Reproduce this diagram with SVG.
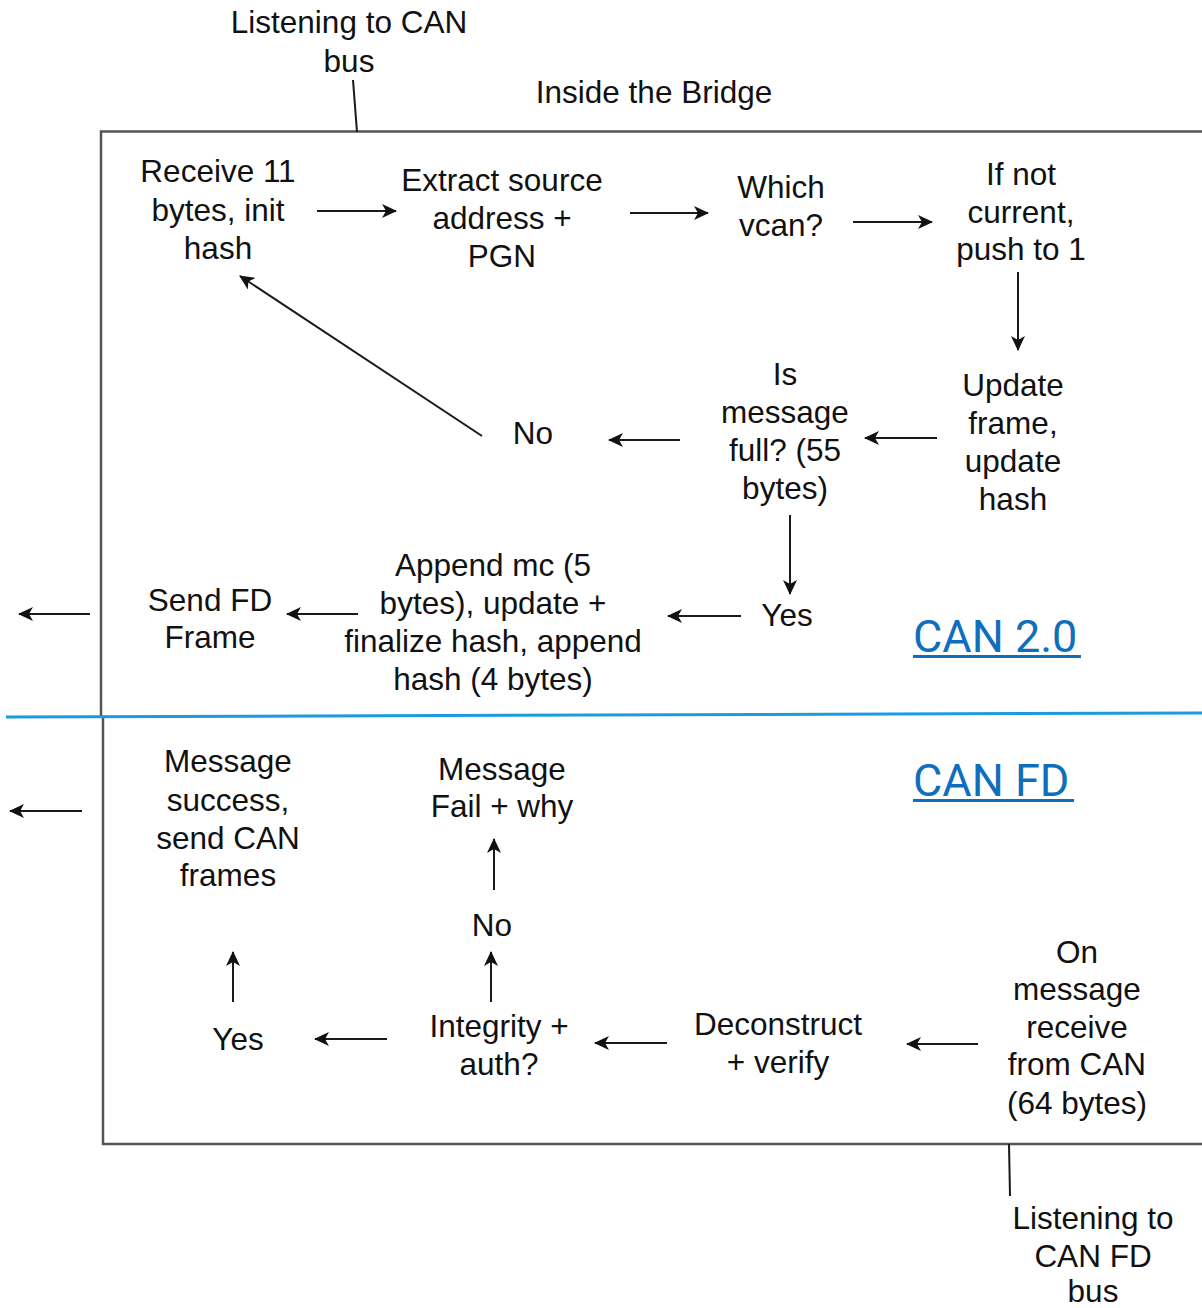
<svg xmlns="http://www.w3.org/2000/svg" width="1202" height="1308" viewBox="0 0 1202 1308">
  <style>
    text { font-family: "Liberation Sans", Arial, sans-serif; font-size: 31.5px; fill: #111; text-anchor: middle; }
    .lbl { font-family: Roboto, "Liberation Sans", sans-serif; font-size: 45px; fill: #0f6fbd; text-anchor: start; }
    .edge { stroke: #1a1a1a; stroke-width: 2; fill: none; }
    .arrow { marker-end: url(#head); }
    .frame { stroke: #555; stroke-width: 2.5; fill: none; }
    .lane { stroke: #1b9ae0; stroke-width: 3; fill: none; }
    .ul { fill: #0f6fbd; }
  </style>
  <defs>
    <marker id="head" viewBox="0 0 15 14" refX="14" refY="7" markerWidth="15" markerHeight="14" markerUnits="userSpaceOnUse" orient="auto">
      <path d="M0,0 L15,7 L0,14 L4,7 z" fill="#111"/>
    </marker>
  </defs>

  <rect width="1202" height="1308" fill="#fff"/>

  <!-- bridge boundary -->
  <g id="bridge">
    <path class="frame" d="M1202,131.5 H101 V717"/>
    <path class="frame" d="M103,717 V1144 H1202"/>
    <path class="lane" d="M6,717 L1202,713"/>
  </g>

  <!-- section titles -->
  <g id="title-bridge"><text x="654" y="103">Inside the Bridge</text></g>
  <g id="lane-can20">
    <text class="lbl" x="913" y="652">CAN 2.0</text>
    <rect class="ul" x="913" y="655" width="168" height="3"/>
  </g>
  <g id="lane-canfd">
    <text class="lbl" x="913" y="796">CAN FD</text>
    <rect class="ul" x="913" y="799" width="161" height="3"/>
  </g>

  <!-- CAN 2.0 flow -->
  <g id="listen-can">
    <text x="349" y="33">Listening to CAN</text>
    <text x="349" y="72">bus</text>
  </g>
  <g id="receive">
    <text x="218" y="182">Receive 11</text>
    <text x="218" y="221">bytes, init</text>
    <text x="218" y="259">hash</text>
  </g>
  <g id="extract">
    <text x="502" y="191">Extract source</text>
    <text x="502" y="229">address +</text>
    <text x="502" y="267">PGN</text>
  </g>
  <g id="which-vcan">
    <text x="781" y="198">Which</text>
    <text x="781" y="236">vcan?</text>
  </g>
  <g id="push">
    <text x="1021" y="185">If not</text>
    <text x="1021" y="223">current,</text>
    <text x="1021" y="260">push to 1</text>
  </g>
  <g id="update">
    <text x="1013" y="396">Update</text>
    <text x="1013" y="434">frame,</text>
    <text x="1013" y="472">update</text>
    <text x="1013" y="510">hash</text>
  </g>
  <g id="is-full">
    <text x="785" y="385">Is</text>
    <text x="785" y="423">message</text>
    <text x="785" y="461">full? (55</text>
    <text x="785" y="499">bytes)</text>
  </g>
  <g id="no-full"><text x="533" y="444">No</text></g>
  <g id="yes-full"><text x="787" y="626">Yes</text></g>
  <g id="append">
    <text x="493" y="576">Append mc (5</text>
    <text x="493" y="614">bytes), update +</text>
    <text x="493" y="652">finalize hash, append</text>
    <text x="493" y="690">hash (4 bytes)</text>
  </g>
  <g id="send-fd">
    <text x="210" y="611">Send FD</text>
    <text x="210" y="648">Frame</text>
  </g>

  <!-- CAN FD flow -->
  <g id="on-receive">
    <text x="1077" y="963">On</text>
    <text x="1077" y="1000">message</text>
    <text x="1077" y="1038">receive</text>
    <text x="1077" y="1075">from CAN</text>
    <text x="1077" y="1114">(64 bytes)</text>
  </g>
  <g id="deconstruct">
    <text x="778" y="1035">Deconstruct</text>
    <text x="778" y="1073">+ verify</text>
  </g>
  <g id="integrity">
    <text x="499" y="1037">Integrity +</text>
    <text x="499" y="1075">auth?</text>
  </g>
  <g id="yes-ok"><text x="238" y="1050">Yes</text></g>
  <g id="no-ok"><text x="492" y="936">No</text></g>
  <g id="fail">
    <text x="502" y="780">Message</text>
    <text x="502" y="817">Fail + why</text>
  </g>
  <g id="success">
    <text x="228" y="772">Message</text>
    <text x="228" y="811">success,</text>
    <text x="228" y="849">send CAN</text>
    <text x="228" y="886">frames</text>
  </g>
  <g id="listen-canfd">
    <text x="1093" y="1229">Listening to</text>
    <text x="1093" y="1267">CAN FD</text>
    <text x="1093" y="1302">bus</text>
  </g>

  <!-- connectors -->
  <g id="connectors">
    <line class="edge" x1="353" y1="80" x2="357" y2="132"/>
    <line class="edge" x1="1009" y1="1144" x2="1010" y2="1196"/>

    <line class="edge arrow" x1="317" y1="211" x2="396" y2="211"/>
    <line class="edge arrow" x1="630" y1="213" x2="708" y2="213"/>
    <line class="edge arrow" x1="853" y1="222" x2="932" y2="222"/>
    <line class="edge arrow" x1="1018" y1="272" x2="1018" y2="350"/>
    <line class="edge arrow" x1="937" y1="438" x2="865" y2="438"/>
    <line class="edge arrow" x1="680" y1="440" x2="609" y2="440"/>
    <line class="edge arrow" x1="482" y1="436" x2="240" y2="276"/>
    <line class="edge arrow" x1="790" y1="515" x2="790" y2="594"/>
    <line class="edge arrow" x1="741" y1="616" x2="668" y2="616"/>
    <line class="edge arrow" x1="358" y1="614" x2="287" y2="614"/>
    <line class="edge arrow" x1="90" y1="614" x2="19" y2="614"/>

    <line class="edge arrow" x1="978" y1="1044" x2="907" y2="1044"/>
    <line class="edge arrow" x1="667" y1="1043" x2="595" y2="1043"/>
    <line class="edge arrow" x1="387" y1="1039" x2="315" y2="1039"/>
    <line class="edge arrow" x1="491" y1="1002" x2="491" y2="952"/>
    <line class="edge arrow" x1="494" y1="890" x2="494" y2="839"/>
    <line class="edge arrow" x1="233" y1="1002" x2="233" y2="952"/>
    <line class="edge arrow" x1="82" y1="811" x2="10" y2="811"/>
  </g>
</svg>
